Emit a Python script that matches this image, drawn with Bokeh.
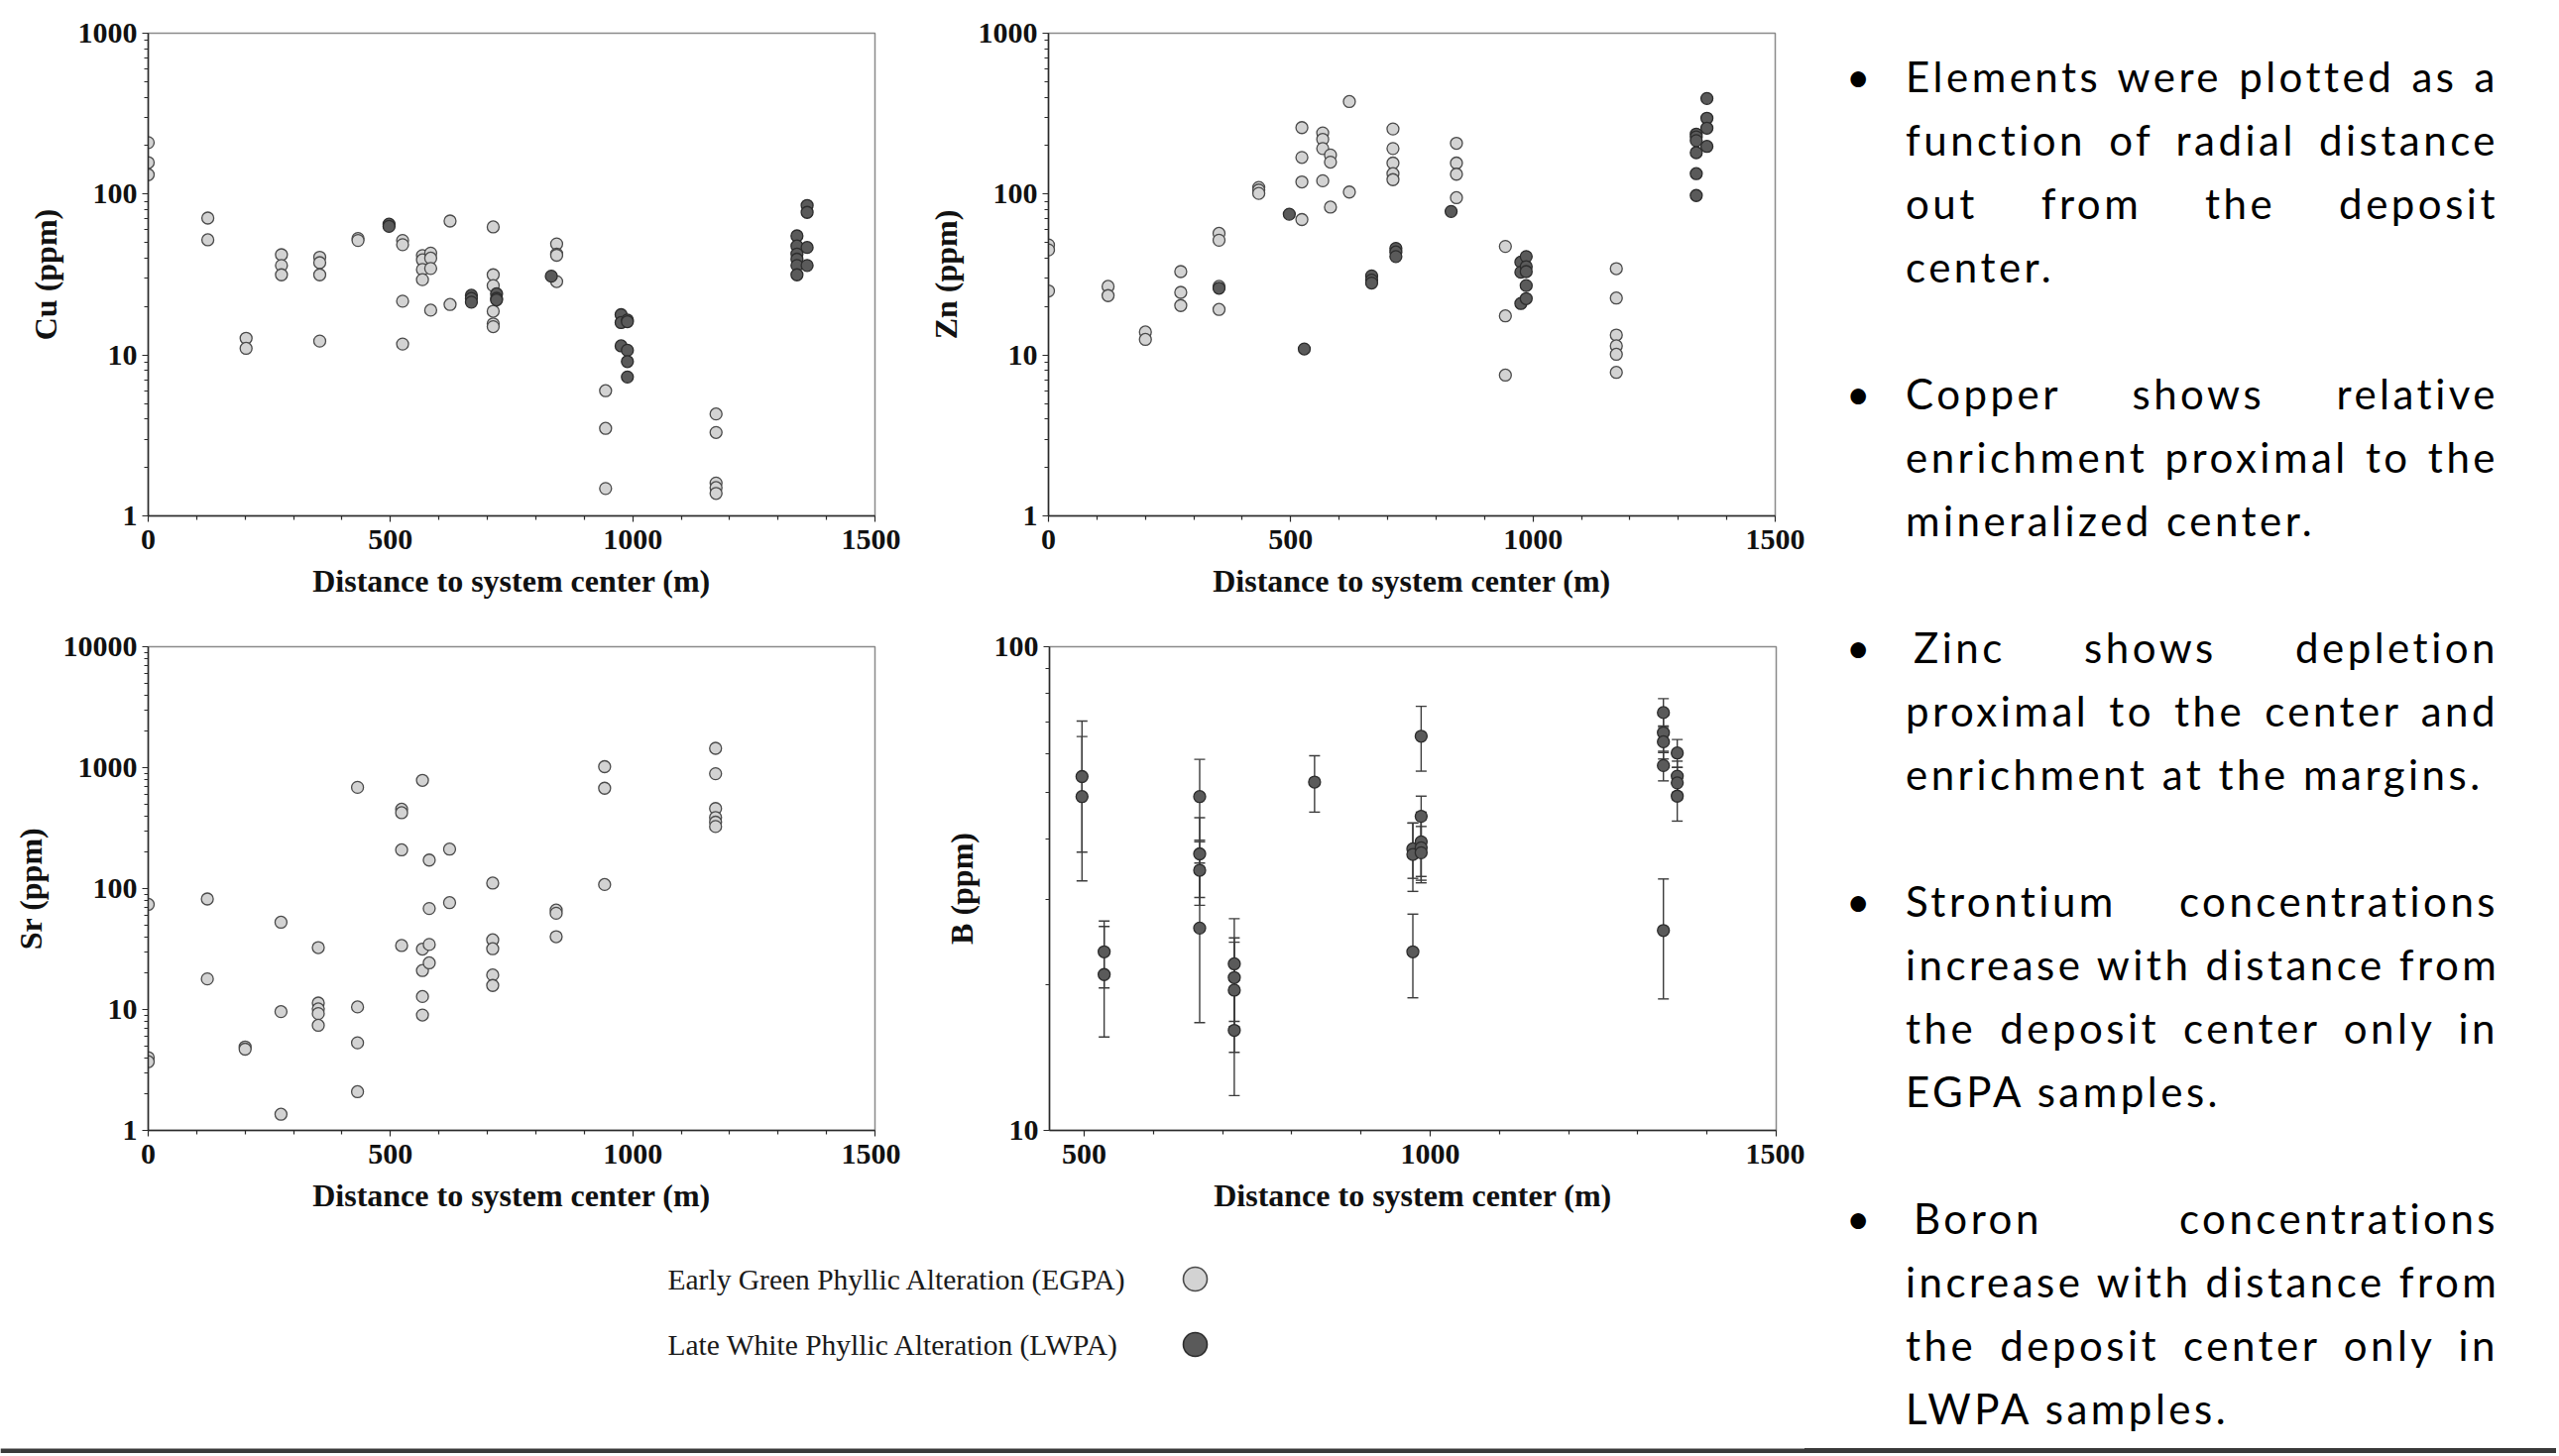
from bokeh.plotting import figure
from bokeh.models import (Range1d, FixedTicker, NumeralTickFormatter, ColumnDataSource,
                          Whisker, TeeHead, Div)
from bokeh.layouts import row, column
from bokeh.core.properties import value
from bokeh.embed import file_html
from bokeh.resources import INLINE

# ---------------- data ----------------
x_label = "Distance to system center (m)"
x_ticks = [0, 500, 1000, 1500]
x_minor = [100, 200, 300, 400, 600, 700, 800, 900, 1100, 1200, 1300, 1400]
b_x_ticks = [500, 1000, 1500]

cu_egpa_x = [0, 0, 0, 123, 123, 202, 202, 275, 275, 275, 354, 354, 354, 354, 433, 433,
             525, 525, 525, 525, 566, 566, 566, 566, 583, 583, 583, 583, 623, 623,
             712, 712, 712, 712, 712, 712, 843, 843, 843, 843, 944, 944, 944,
             1172, 1172, 1172, 1172, 1172]
cu_egpa_y = [209, 157, 132, 71, 52, 12.7, 11.0, 42, 36, 31.5, 40.5, 37.5, 31.5, 12.2, 53, 51.5,
             51.5, 48.5, 21.6, 11.7, 41.5, 39, 34, 29.4, 43, 40, 34.5, 19, 68, 20.6,
             62.5, 31.5, 27, 18.7, 15.6, 15.0, 49, 42.4, 41.7, 28.6, 6.0, 3.5, 1.48,
             4.3, 3.3, 1.6, 1.5, 1.38]
cu_lwpa_x = [497, 497, 667, 667, 667, 719, 719, 719, 832, 976, 976, 976,
             989, 989, 989, 989, 989, 1339, 1339, 1339, 1339, 1339, 1339,
             1360, 1360, 1360, 1360]
cu_lwpa_y = [65, 63, 23.5, 22.5, 21.3, 24, 22.5, 22, 30.9, 17.8, 15.9, 11.4,
             16.5, 16.1, 10.7, 9.1, 7.3, 55, 47.6, 42.4, 39.4, 36, 31.5,
             85, 77, 46.6, 36]

zn_egpa_x = [0, 0, 0, 123, 123, 200, 200, 273, 273, 273, 352, 352, 352, 352, 434, 434, 434,
             523, 523, 523, 523, 566, 566, 566, 566, 582, 582, 582, 621, 621,
             711, 711, 711, 711, 711, 842, 842, 842, 842, 943, 943, 943,
             1172, 1172, 1172, 1172, 1172, 1172]
zn_egpa_y = [48.3, 45, 25, 26.7, 23.4, 13.9, 12.5, 33, 24.5, 20.3, 57, 51.7, 26.7, 19.2, 110, 106, 101,
             259, 169, 119, 69.5, 240, 219, 192, 121, 175, 158, 83, 376, 103,
             254, 192, 156, 134, 123, 207, 156, 133, 95, 47.3, 17.5, 7.5,
             34.4, 22.6, 13.3, 11.4, 10.1, 7.8]
zn_lwpa_x = [352, 497, 528, 667, 667, 667, 717, 717, 717, 831, 975, 975, 975,
             986, 986, 986, 986, 986, 1337, 1337, 1337, 1337, 1337, 1337,
             1359, 1359, 1359, 1359]
zn_lwpa_y = [26, 75, 10.9, 31, 29.2, 28, 46, 43.7, 40.9, 78, 37.8, 32.7, 20.9,
             40.9, 35.4, 33, 27, 22.4, 236, 227, 215, 181, 134, 98,
             393, 296, 257, 198]

sr_egpa_x = [0, 0, 0, 122, 122, 200, 200, 274, 274, 274, 351, 351, 351, 351, 351,
             432, 432, 432, 432, 523, 523, 523, 523, 566, 566, 566, 566, 566,
             580, 580, 580, 580, 622, 622, 711, 711, 711, 711, 711, 842, 842, 842,
             942, 942, 942, 1171, 1171, 1171, 1171, 1171, 1171]
sr_egpa_y = [74, 4.0, 3.7, 82, 17.9, 4.9, 4.7, 52.7, 9.6, 1.36, 32.5, 11.3, 10.1, 9.25, 7.4,
             687, 10.5, 5.3, 2.09, 453, 424, 209, 33.8, 785, 31.6, 21, 12.8, 9.0,
             172, 68.4, 34.5, 24.3, 212, 76.5, 111, 37.7, 31.8, 19.3, 15.8, 66.4, 62.5, 40,
             1019, 676, 108, 1445, 891, 459, 387, 354, 326]

b_lwpa_x = [497, 497, 529, 529, 667, 667, 667, 667, 717, 717, 717, 717, 833,
            975, 975, 975, 987, 987, 987, 987, 987, 1337, 1337, 1337, 1337, 1337,
            1357, 1357, 1357, 1357]
b_lwpa_y = [53.9, 49, 23.4, 21.0, 49, 37.3, 34.5, 26.2, 22.1, 20.7, 19.5, 16.1, 52.5,
            38.2, 37.2, 23.4, 65.3, 44.6, 39.5, 38.4, 37.5, 73.1, 66.4, 63.6, 56.8, 25.9,
            60.3, 54, 52.3, 49.1]
b_lwpa_err = [16.3, 16.2, 3.7, 5.4, 9.5, 7, 5.3, 9.5, 5.3, 4.3, 5, 4.3, 7,
              5, 6, 4.6, 10, 4.5, 6, 5.5, 5, 5, 6, 5, 4, 7.2,
              4, 4, 4, 5.5]

legend_labels = ["Early Green Phyllic Alteration (EGPA)", "Late White Phyllic Alteration (LWPA)"]

bullets = [
    ["Elements were plotted as a", "function of radial distance", "out from the deposit", "center."],
    ["Copper shows relative", "enrichment proximal to the", "mineralized center."],
    ["Zinc shows depletion", "proximal to the center and", "enrichment at the margins."],
    ["Strontium concentrations", "increase with distance from", "the deposit center only in", "EGPA samples."],
    ["Boron concentrations", "increase with distance from", "the deposit center only in", "LWPA samples."],
]
bullet_indent = [0, 0, 8, 0, 8]

# ---------------- styles ----------------
EG_FILL, EG_LINE = "#d3d3d3", "#4a4a4a"
LW_FILL, LW_LINE = "#5a5a5a", "#2c2c2c"
SERIF = "Liberation Serif"


def decade_minor(lo, hi):
    out = []
    d = lo
    while d < hi:
        out += [d * k for k in range(2, 10)]
        d *= 10
    return out


def make_panel(width, height, bl, br, bt, bb, xr, yr, ylabel, xt, yt):
    p = figure(width=width, height=height, x_range=Range1d(*xr), y_range=Range1d(*yr),
               y_axis_type="log", output_backend="svg", toolbar_location=None,
               min_border_left=bl, min_border_right=br, min_border_top=bt, min_border_bottom=bb)
    p.background_fill_color = "white"
    p.border_fill_color = "white"
    p.outline_line_color = "#8a8a8a"
    p.outline_line_width = 1.5
    p.xgrid.visible = False
    p.ygrid.visible = False
    p.xaxis.ticker = FixedTicker(ticks=xt, minor_ticks=x_minor)
    p.yaxis.ticker = FixedTicker(ticks=yt, minor_ticks=decade_minor(yt[0], yt[-1]))
    p.yaxis.formatter = NumeralTickFormatter(format="0")
    p.xaxis.axis_label = x_label
    p.yaxis.axis_label = ylabel
    for ax in (p.xaxis[0], p.yaxis[0]):
        ax.axis_line_color = "#2a2a2a"
        ax.axis_line_width = 1.5
        ax.major_tick_line_color = "#2a2a2a"
        ax.minor_tick_line_color = "#2a2a2a"
        ax.major_tick_line_width = 1.2
        ax.minor_tick_line_width = 1.2
        ax.major_tick_in = 0
        ax.major_tick_out = 6
        ax.minor_tick_in = 0
        ax.minor_tick_out = 4
        ax.major_label_text_font = SERIF
        ax.major_label_text_font_style = "bold"
        ax.major_label_text_font_size = "30px"
        ax.major_label_text_color = "#111111"
        ax.axis_label_text_font = SERIF
        ax.axis_label_text_font_style = "bold"
        ax.axis_label_text_font_size = "32px"
        ax.axis_label_text_color = "#111111"
    p.xaxis.major_label_standoff = 8
    p.yaxis.major_label_standoff = 5
    p.xaxis.axis_label_standoff = 11
    p.yaxis.axis_label_standoff = 12
    return p


def pts(p, xs, ys, fill, line):
    p.scatter(x=xs, y=ys, size=12, fill_color=fill, line_color=line, line_width=1.3)


# Cu
p_cu = make_panel(908, 626, 149, 26, 33, 105, (0, 1500), (1, 1000), "Cu (ppm)", x_ticks, [1, 10, 100, 1000])
pts(p_cu, cu_egpa_x, cu_egpa_y, EG_FILL, EG_LINE)
pts(p_cu, cu_lwpa_x, cu_lwpa_y, LW_FILL, LW_LINE)

# Zn
p_zn = make_panel(912, 626, 149, 30, 32, 106, (0, 1500), (1, 1000), "Zn (ppm)", x_ticks, [1, 10, 100, 1000])
pts(p_zn, zn_egpa_x, zn_egpa_y, EG_FILL, EG_LINE)
pts(p_zn, zn_lwpa_x, zn_lwpa_y, LW_FILL, LW_LINE)

# Sr
p_sr = make_panel(908, 618, 149, 26, 25, 104, (0, 1500), (1, 10000), "Sr (ppm)", x_ticks, [1, 10, 100, 1000, 10000])
pts(p_sr, sr_egpa_x, sr_egpa_y, EG_FILL, EG_LINE)

# B
p_b = make_panel(912, 618, 150, 29, 26, 104, (450, 1500), (10, 100), "B (ppm)", b_x_ticks, [10, 100])
b_src = ColumnDataSource(data=dict(
    x=b_lwpa_x, y=b_lwpa_y,
    upper=[y + e for y, e in zip(b_lwpa_y, b_lwpa_err)],
    lower=[y - e for y, e in zip(b_lwpa_y, b_lwpa_err)],
))
wh = Whisker(base="x", upper="upper", lower="lower", source=b_src, dimension="height",
             line_color="#3c3c3c", line_width=1.4,
             upper_head=TeeHead(size=11, line_color="#3c3c3c", line_width=1.4),
             lower_head=TeeHead(size=11, line_color="#3c3c3c", line_width=1.4))
p_b.add_layout(wh)
p_b.scatter(x="x", y="y", source=b_src, size=12, fill_color=LW_FILL, line_color=LW_LINE, line_width=1.3)

# Legend / bottom strip
LEG_W, LEG_H = 1820, 222
p_leg = figure(width=LEG_W, height=LEG_H, x_range=Range1d(0, LEG_W), y_range=Range1d(LEG_H, 0),
               output_backend="svg", toolbar_location=None, x_axis_location=None, y_axis_location=None,
               min_border=0)
p_leg.outline_line_color = None
p_leg.xgrid.visible = False
p_leg.ygrid.visible = False
p_leg.background_fill_color = "white"
p_leg.border_fill_color = "white"
p_leg.text(x=[673, 673], y=[46, 112], text=legend_labels, text_font=value(SERIF),
           text_font_size="29.5px", text_baseline="middle", text_align="left", text_color="#1a1a1a")
p_leg.scatter(x=[1205, 1205], y=[46, 112], size=24, fill_color=[EG_FILL, LW_FILL],
              line_color=[EG_LINE, LW_LINE], line_width=1.6)
p_leg.quad(left=[0], right=[LEG_W], top=[LEG_H - 5], bottom=[LEG_H], fill_color="#3a3a3a", line_color=None)

# Right text
DIV_W, DIV_H = 758, 1466
parts = []
for i, para in enumerate(bullets):
    if i > 0:
        parts.append('<div style="height:64px"></div>')
    lines = []
    for j, ln in enumerate(para):
        last = j == len(para) - 1
        align = "left" if last else "justify"
        indent = bullet_indent[i] if j == 0 else 0
        lines.append(
            f'<div style="white-space:nowrap;text-indent:{indent}px;text-align:{align};'
            f'text-align-last:{align};">{ln}</div>')
    parts.append(
        '<div style="position:relative;margin-left:102px;width:598px;">'
        '<span style="position:absolute;left:-60px;top:0;">\u2022</span>'
        + "".join(lines) + '</div>')
html = (
    f'<div style="position:relative;width:{DIV_W}px;height:{DIV_H}px;box-sizing:border-box;'
    'padding-top:45px;font-family:Lato,sans-serif;font-size:42px;line-height:64px;'
    'letter-spacing:3.5px;color:#000;">'
    + "".join(parts)
    + f'<div style="position:absolute;left:0;top:{DIV_H - 5}px;width:{DIV_W}px;height:5px;background:#3a3a3a;"></div>'
    '</div>'
)
div = Div(text=html, width=DIV_W, height=DIV_H, styles={"margin": "0", "padding": "0"})

left = column(row(p_cu, p_zn, spacing=0), row(p_sr, p_b, spacing=0), p_leg, spacing=0)
layout = row(left, div, spacing=0)

open("out.html", "w").write(file_html(layout, INLINE, title="Element distribution"))
